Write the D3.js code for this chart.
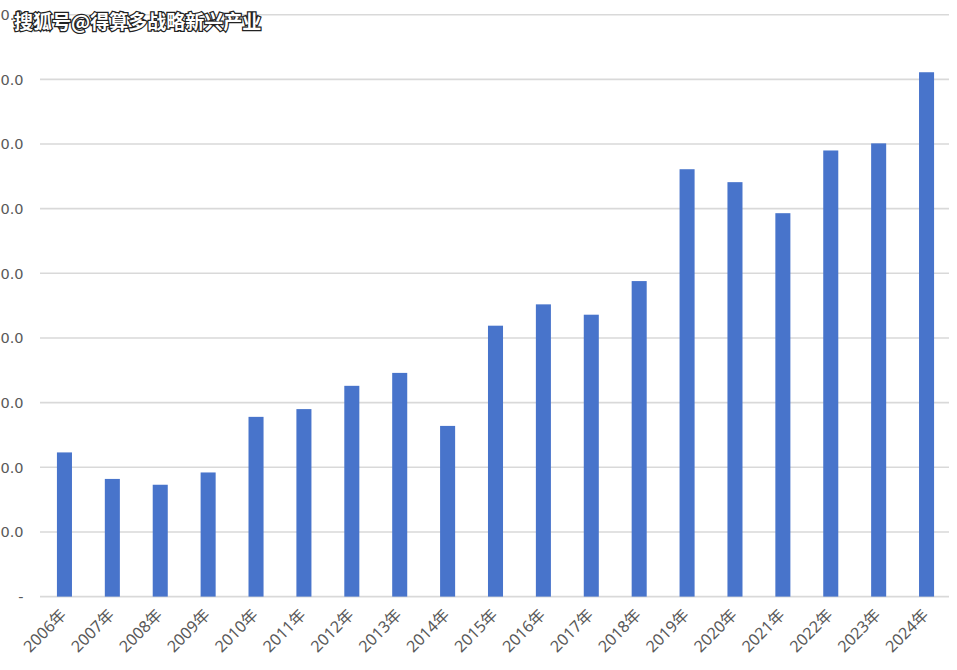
<!DOCTYPE html>
<html>
  <head>
    <meta charset="utf-8">
    <title>bar chart</title>
    <style>
      body { margin: 0; background: #fff; }
      text { font-family: "Noto Sans", "Noto Sans CJK SC", sans-serif; }
    </style>
  </head>
  <body>
    <script src="https://cdn.jsdelivr.net/npm/d3@7"></script>
    <script type="text/javascript">
      var years = ["2006年", "2007年", "2008年", "2009年", "2010年", "2011年", "2012年",
                   "2013年", "2014年", "2015年", "2016年", "2017年", "2018年", "2019年",
                   "2020年", "2021年", "2022年", "2023年", "2024年"];
      var values = [22.3, 18.2, 17.3, 19.2, 27.8, 29.0, 32.6, 34.6, 26.4, 41.9,
                    45.2, 43.6, 48.8, 66.1, 64.1, 59.3, 69.0, 70.1, 81.1];
      var yTicks = [0, 10, 20, 30, 40, 50, 60, 70, 80, 90];
      var watermark = "搜狐号@得算多战略新兴产业";

      var width = 957;
      var height = 670;
      var svg = d3.select("body")
                  .append("svg")
                  .attr("width", width)
                  .attr("height", height);

      var x = d3.scaleBand()
                .domain(years)
                .range([40.5, 950.5])
                .paddingInner(0.686)
                .paddingOuter(0.343);

      var y = d3.scaleLinear()
                .domain([0, 90])
                .range([596.6, 14.7]);

      // gridlines
      svg.append("g")
         .selectAll("line")
         .data(yTicks)
         .enter()
         .append("line")
         .attr("x1", 40)
         .attr("x2", 949)
         .attr("y1", function(d) { return y(d); })
         .attr("y2", function(d) { return y(d); })
         .attr("stroke", "#d9d9d9")
         .attr("stroke-width", 1.6);

      // y labels, the leading digits run off the left edge like the source
      svg.append("g")
         .selectAll("text")
         .data(yTicks)
         .enter()
         .append("text")
         .attr("x", 23.5)
         .attr("y", function(d) { return y(d); })
         .attr("dy", "0.36em")
         .attr("text-anchor", "end")
         .attr("fill", "#595959")
         .style("font-family", "'DejaVu Sans', sans-serif")
         .style("font-size", "14.5px")
         .text(function(d) { return d === 0 ? "-" : d3.format(".1f")(d); });

      svg.append("g")
         .selectAll("rect")
         .data(values)
         .enter()
         .append("rect")
         .attr("x", function(d, i) { return x(years[i]); })
         .attr("width", x.bandwidth())
         .attr("y", function(d) { return y(d); })
         .attr("height", function(d) { return y(0) - y(d); })
         .attr("fill", "#4874cb");

      // x labels rotated 45 degrees
      svg.append("g")
         .selectAll("text")
         .data(years)
         .enter()
         .append("text")
         .attr("transform", function(d) {
           var cx = x(d) + x.bandwidth() / 2 - 1;
           return "translate(" + cx + ",612) rotate(-45)";
         })
         .attr("text-anchor", "end")
         .attr("dy", "0.35em")
         .attr("fill", "#595959")
         .style("font-size", "16px")
         .text(function(d) { return d; });

      svg.append("text")
         .attr("x", 14)
         .attr("y", 29)
         .attr("fill", "#fff")
         .attr("stroke", "#222")
         .attr("stroke-width", 2.5)
         .attr("paint-order", "stroke")
         .style("font-size", "19px")
         .style("font-weight", "bold")
         .style("font-family", "'Noto Sans CJK SC', sans-serif")
         .text(watermark);
    </script>
  </body>
</html>
